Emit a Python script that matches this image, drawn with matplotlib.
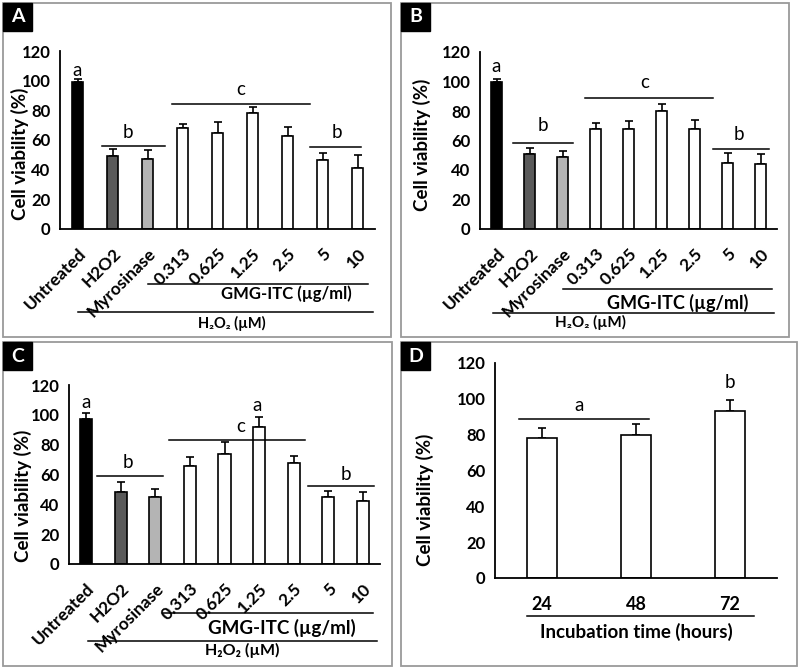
import numpy as np
import matplotlib
matplotlib.use("Agg")
import matplotlib.pyplot as plt
from matplotlib.patches import Rectangle
from matplotlib.transforms import blended_transform_factory

plt.rcParams['font.family'] = ['Lato', 'DejaVu Sans']

# data
treatments = ['Untreated', 'H2O2', 'Myrosinase', '0.313', '0.625', '1.25', '2.5', '5', '10']
a_vals = [99, 49, 47, 68, 65, 78, 63, 46.5, 41]
a_err = [2, 5, 6, 3, 7, 4, 6, 4.5, 9]
b_vals = [100, 51, 49, 68, 68, 80, 68, 45, 44]
b_err = [2, 4, 4, 4, 5, 5, 6, 6.5, 7]
c_vals = [97.5, 48.4, 44.6, 66, 74, 92, 68, 44.6, 42]
c_err = [3.5, 6.6, 5.4, 5.6, 7.5, 6.6, 4.5, 4.4, 6.6]
hours = ['24', '48', '72']
d_vals = [78, 80, 93]
d_err = [5.5, 6, 6.5]

bar_colors = ['black', '#5a5a5a', '#b4b4b4'] + ['white'] * 6
h2o2_label = 'H₂O₂ (µM)'

W, H = 800, 669
fig = plt.figure(figsize=(W / 100, H / 100), dpi=100)


def fx(x):
    return x / W


def fy(y):
    return 1 - y / H


def frame(x0, y0, x1, y1, letter):
    fig.add_artist(Rectangle((fx(x0), fy(y1)), fx(x1 - x0), (y1 - y0) / H,
                             transform=fig.transFigure, fill=False,
                             edgecolor='#9a9a9a', lw=1.3))
    fig.add_artist(Rectangle((fx(x0), fy(y0 + 28)), fx(29), 28 / H,
                             transform=fig.transFigure, color='black'))
    fig.text(fx(x0 + 14.5), fy(y0 + 14), letter, color='white', fontsize=14,
             fontweight='bold', ha='center', va='center')


def make_axes(left, top, right, bottom, label_xy):
    ax = fig.add_axes([fx(left), fy(bottom), fx(right - left), (bottom - top) / H])
    for s in ['top', 'right']:
        ax.spines[s].set_visible(False)
    for s in ['left', 'bottom']:
        ax.spines[s].set_linewidth(1.3)
    ax.set_ylim(0, 120)
    ax.set_yticks(range(0, 121, 20))
    ax.tick_params(length=0, labelsize=12, pad=7)
    for t in ax.get_yticklabels():
        t.set_fontweight('bold')
    fig.text(fx(label_xy[0]), fy(label_xy[1]), 'Cell viability (%)', rotation=90,
             ha='center', va='center', fontsize=13.5, fontweight='bold')
    return ax


def treatment_panel(ax, vals, errs, width, sig, lines, texts, sizes):
    x = np.arange(len(treatments))
    ax.bar(x, vals, width=width, color=bar_colors, edgecolor='black', lw=1.2, zorder=2)
    ax.errorbar(x, vals, yerr=[np.zeros(len(errs)), errs], fmt='none',
                ecolor='black', elinewidth=1.2, capsize=3, capthick=1.2, zorder=1)
    ax.set_xlim(-0.5, 8.5)
    ax.set_xticks(x)
    ax.set_xticklabels(treatments, rotation=45, ha='right', va='top',
                       rotation_mode='anchor', fontsize=12.5, fontweight='bold')
    ax.tick_params(axis='x', pad=12)
    for (x0, x1, yl, xt, yt, letter) in sig:
        if x0 is not None:
            ax.plot([x0, x1], [yl, yl], color='black', lw=1.1)
        ax.text(xt, yt, letter, ha='center', va='center', fontsize=13.5)
    tr = blended_transform_factory(ax.transData, fig.transFigure)
    for (x0, x1, y) in lines:
        ax.plot([x0, x1], [fy(y)] * 2, transform=tr, color='black',
                lw=1.1, clip_on=False)
    (gx, gy), (hx, hy) = texts
    ax.text(gx, fy(gy), 'GMG-ITC (µg/ml)', transform=tr, ha='center',
            va='center', fontsize=sizes[0], fontweight='bold')
    ax.text(hx, fy(hy), h2o2_label, transform=tr, ha='center',
            va='center', fontsize=sizes[1], fontweight='bold')


# panel A
frame(3, 3, 391, 337, 'A')
ax = make_axes(60, 51, 375, 229, (20, 154))
treatment_panel(ax, a_vals, a_err, 0.34,
                [(None, None, 0, 0, 107, 'a'),
                 (0.71, 2.49, 56, 1.43, 65, 'b'),
                 (2.69, 6.63, 84, 4.65, 94, 'c'),
                 (6.63, 8.11, 55, 7.4, 65, 'b')],
                [(2.0, 8.3, 284), (0.0, 8.45, 312)],
                [(5.97, 294), (4.4, 323)], (12, 10.5))

# panel B
frame(401, 3, 789, 337, 'B')
ax = make_axes(480, 52, 777, 229, (422, 145))
treatment_panel(ax, b_vals, b_err, 0.31,
                [(None, None, 0, 0, 110, 'a'),
                 (0.49, 2.32, 58, 1.4, 70, 'b'),
                 (2.69, 6.57, 89, 4.5, 99, 'c'),
                 (6.57, 8.26, 54, 7.34, 64, 'b')],
                [(2.0, 8.35, 289), (-0.1, 8.4, 313)],
                [(5.5, 303), (2.84, 322)], (13, 11))

# panel C
frame(3, 342, 392, 666, 'C')
ax = make_axes(69, 385, 380, 564, (23, 496))
treatment_panel(ax, c_vals, c_err, 0.35,
                [(None, None, 0, 0, 108, 'a'),
                 (0.32, 2.23, 59, 1.19, 68, 'b'),
                 (2.38, 6.32, 83, 4.46, 92, 'c'),
                 (None, None, 0, 4.93, 106.5, 'a'),
                 (6.43, 8.32, 52, 7.5, 60, 'b')],
                [(2.23, 8.3, 613), (0.06, 8.4, 641)],
                [(5.65, 628), (4.5, 650)], (13.5, 11.5))

# panel D
frame(401, 342, 797, 666, 'D')
ax = make_axes(495, 363, 777, 578, (425, 500))
xd = np.arange(len(hours))
ax.bar(xd, d_vals, width=0.31, color='white', edgecolor='black', lw=1.2, zorder=2)
ax.errorbar(xd, d_vals, yerr=[np.zeros(3), d_err], fmt='none', ecolor='black',
            elinewidth=1.2, capsize=3, capthick=1.2, zorder=1)
ax.set_xlim(-0.5, 2.5)
ax.set_xticks(xd)
ax.set_xticklabels(hours, fontsize=13, fontweight='bold')
ax.tick_params(axis='x', pad=13)
ax.plot([-0.25, 1.14], [89, 89], color='black', lw=1.1)
ax.text(0.39, 96, 'a', ha='center', va='center', fontsize=13.5)
ax.text(2.0, 109, 'b', ha='center', va='center', fontsize=13.5)
tr = blended_transform_factory(ax.transData, fig.transFigure)
ax.plot([-0.16, 2.25], [fy(616)] * 2, transform=tr, color='black', lw=1.1,
        clip_on=False)
ax.text(1.0, fy(632), 'Incubation time (hours)', transform=tr, ha='center',
        va='center', fontsize=13.5, fontweight='bold')

fig.savefig('out.png', dpi=100)
